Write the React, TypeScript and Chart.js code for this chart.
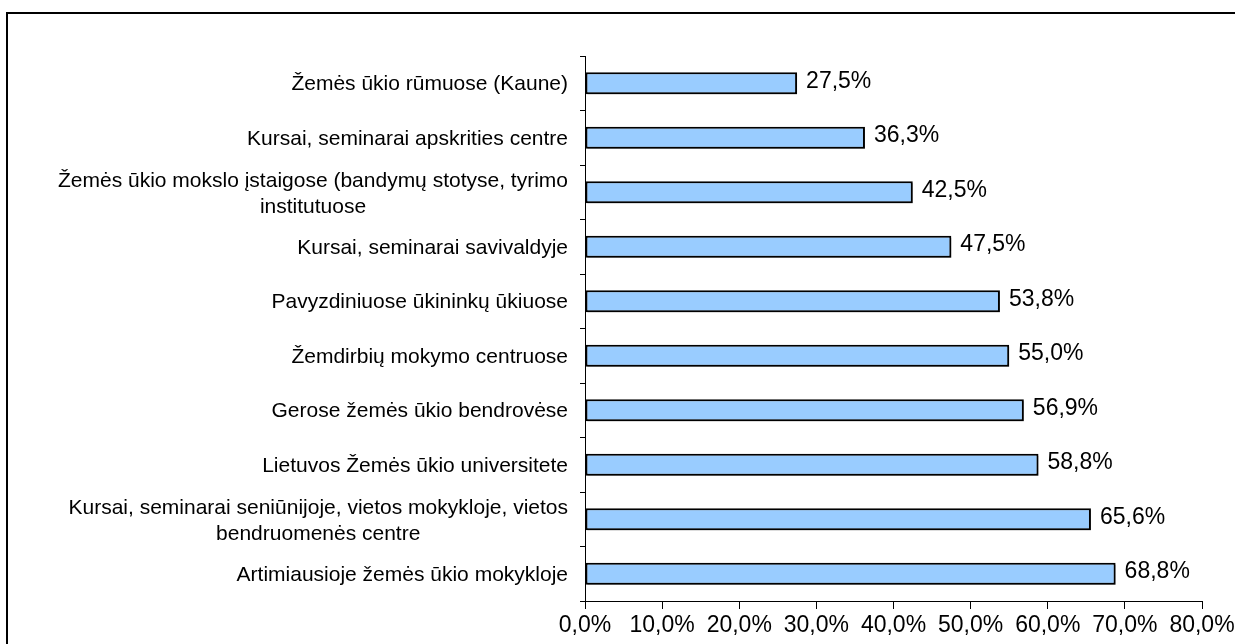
import React, { useEffect, useRef } from "react";
import { Chart, registerables } from "chart.js";

Chart.register(...registerables);

const categories: (string | string[])[] = [
  "Žemės ūkio rūmuose (Kaune)",
  "Kursai, seminarai apskrities centre",
  ["Žemės ūkio mokslo įstaigose (bandymų stotyse, tyrimo", "institutuose"],
  "Kursai, seminarai savivaldyje",
  "Pavyzdiniuose ūkininkų ūkiuose",
  "Žemdirbių mokymo centruose",
  "Gerose žemės ūkio bendrovėse",
  "Lietuvos Žemės ūkio universitete",
  ["Kursai, seminarai seniūnijoje, vietos mokykloje, vietos", "bendruomenės centre"],
  "Artimiausioje žemės ūkio mokykloje",
];

const values: number[] = [27.5, 36.3, 42.5, 47.5, 53.8, 55.0, 56.9, 58.8, 65.6, 68.8];

const xMin = 0;
const xMax = 80;
const xStep = 10;

const FONT = '"Liberation Sans", Arial, sans-serif';
const fmt = (v: number) => v.toFixed(1).replace(".", ",") + "%";

const framePlugin = {
  id: "frame",
  afterDraw(chart: any) {
    const ctx = chart.ctx;
    ctx.save();
    ctx.strokeStyle = "#000";
    ctx.lineWidth = 2;
    ctx.beginPath();
    ctx.moveTo(7, 2000);
    ctx.lineTo(7, 13);
    ctx.lineTo(2000, 13);
    ctx.stroke();
    ctx.restore();
  },
};

const shadowPlugin = {
  id: "barShadow",
  beforeDatasetsDraw(chart: any) {
    const ctx = chart.ctx;
    ctx.save();
    ctx.shadowColor = "rgba(0,0,0,0.35)";
    ctx.shadowOffsetX = 2;
    ctx.shadowOffsetY = 2;
    ctx.shadowBlur = 0;
  },
  afterDatasetsDraw(chart: any) {
    chart.ctx.restore();
  },
};

const labelsPlugin = {
  id: "customLabels",
  afterDraw(chart: any) {
    const ctx = chart.ctx;
    const yScale = chart.scales.y;
    const xScale = chart.scales.x;
    const right = chart.chartArea.left - 17;
    ctx.save();
    ctx.fillStyle = "#000";
    ctx.font = `21px ${FONT}`;
    ctx.textBaseline = "middle";
    categories.forEach((lab, i) => {
      const y = yScale.getPixelForValue(i);
      if (Array.isArray(lab)) {
        const widths = lab.map((l) => ctx.measureText(l).width);
        const maxW = Math.max(...widths);
        const cx = right - maxW / 2;
        ctx.textAlign = "center";
        const lh = 26;
        const start = y + 2 - ((lab.length - 1) * lh) / 2;
        lab.forEach((l, j) => ctx.fillText(l, cx, start + j * lh));
      } else {
        ctx.textAlign = "right";
        ctx.fillText(lab, right, y + 1);
      }
    });
    ctx.font = `23px ${FONT}`;
    ctx.textAlign = "left";
    values.forEach((v, i) => {
      const y = yScale.getPixelForValue(i);
      const x = xScale.getPixelForValue(v);
      ctx.fillText(fmt(v), x + 9, y - 2);
    });
    ctx.restore();
  },
};

export default function App() {
  const ref = useRef<HTMLCanvasElement | null>(null);
  useEffect(() => {
    if (!ref.current) return;
    const chart = new Chart(ref.current, {
      type: "bar",
      data: {
        labels: categories as any,
        datasets: [
          {
            data: values,
            backgroundColor: "#99CCFF",
            borderColor: "#000000",
            borderWidth: 2,
            borderSkipped: false,
            barPercentage: 0.4,
            categoryPercentage: 1,
          },
        ],
      },
      options: {
        indexAxis: "y",
        responsive: false,
        animation: false,
        devicePixelRatio: 1,
        layout: { padding: { top: 56, right: 33, left: 0, bottom: 0 } },
        plugins: {
          legend: { display: false },
          tooltip: { enabled: false },
        },
        scales: {
          x: {
            type: "linear",
            min: xMin,
            max: xMax,
            ticks: {
              stepSize: xStep,
              color: "#000",
              font: { family: FONT, size: 23 },
              padding: 3,
              maxRotation: 0,
              autoSkip: false,
              callback: (v: any) => fmt(Number(v)),
            },
            grid: {
              display: true,
              drawOnChartArea: false,
              drawTicks: true,
              tickLength: 8,
              color: "#000",
            },
            border: { display: true, color: "#000", width: 1 },
            afterFit: (s: any) => {
              s.height = 43;
              s.paddingLeft = 0;
              s.paddingRight = 0;
            },
          },
          y: {
            type: "category",
            ticks: { display: false },
            grid: {
              display: true,
              offset: true,
              drawOnChartArea: false,
              drawTicks: true,
              tickLength: 5,
              color: "#000",
            },
            border: { display: true, color: "#000", width: 1 },
            afterFit: (s: any) => {
              s.width = 585;
              s.paddingTop = 0;
              s.paddingBottom = 0;
            },
          },
        },
      } as any,
      plugins: [shadowPlugin, labelsPlugin, framePlugin],
    });
    return () => chart.destroy();
  }, []);
  return (
    <div style={{ position: "absolute", left: 0, top: 0, width: 1235, height: 644, background: "#fff" }}>
      <canvas ref={ref} width={1235} height={644} style={{ display: "block", width: 1235, height: 644 }} />
    </div>
  );
}
